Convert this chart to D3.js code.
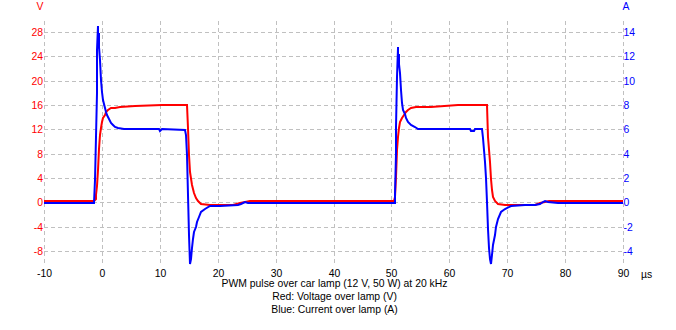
<!DOCTYPE html>
<html>
<head>
<meta charset="utf-8">
<script src="https://cdn.jsdelivr.net/npm/d3@7"></script>
<style>
  html, body { margin: 0; padding: 0; background: #ffffff; }
  svg { display: block; }
  text { font-family: "Liberation Sans", Arial, sans-serif; font-size: 10.4px; }
</style>
</head>
<body>
<svg id="chart" width="676" height="330"></svg>
<script>
// ---- data (time in µs) ----
const timeTicks = [-10, 0, 10, 20, 30, 40, 50, 60, 70, 80, 90];
const voltageTicks = [-8, -4, 0, 4, 8, 12, 16, 20, 24, 28];
const currentTicks = [-4, -2, 0, 2, 4, 6, 8, 10, 12, 14];
const titleLines = [
  "PWM pulse over car lamp (12 V, 50 W) at 20 kHz",
  "Red: Voltage over lamp (V)",
  "Blue: Current over lamp (A)"
];

// Red: voltage over lamp [t, V]
const voltageSamples = [
  [-10, 0.15], [-1.3, 0.15], [-1.1, 0.5], [-0.95, 1.2], [-0.78, 2.6], [-0.67, 5.3],
  [-0.5, 8.8], [-0.33, 11.0], [-0.15, 12.3], [0.02, 13.2], [0.25, 13.8], [0.48, 14.3],
  [0.77, 14.9], [1.06, 15.25], [1.5, 15.45], [2.2, 15.55], [3.1, 15.7], [5.7, 15.85],
  [10.3, 16.0], [14.7, 16.0], [14.88, 12.2], [15.05, 7.8], [15.28, 5.0], [15.57, 2.8],
  [15.85, 1.45], [16.2, 0.7], [16.6, 0.16], [17.2, -0.21], [18.6, -0.38], [22.6, -0.4],
  [23.8, -0.17], [24.7, 0.05], [25.5, 0.15], [50.4, 0.15],
  [50.55, 0.9], [50.74, 4.2], [50.9, 8.6], [51.14, 10.8], [51.3, 12.2], [51.55, 13.25],
  [51.83, 13.9], [52.1, 14.35], [52.47, 14.9], [52.87, 15.2], [53.45, 15.46], [54.3, 15.6],
  [56.9, 15.7], [61.5, 15.95], [66.5, 16.0], [66.7, 10.8], [66.95, 6.65], [67.15, 3.9],
  [67.4, 2.0], [67.6, 0.9], [67.96, 0.17], [68.4, -0.21], [69.57, -0.38], [74.75, -0.5],
  [75.6, -0.2], [76.5, 0.05], [77.3, 0.15], [90, 0.15]
];

// Blue: current over lamp [t, A]
const currentSamples = [
  [-10, -0.03], [-9.4, -0.03], [-9.3, -0.1], [-8.9, -0.1], [-8.8, -0.03], [-6.9, -0.03],
  [-6.8, -0.1], [-6.4, -0.1], [-6.3, -0.03], [-4.6, -0.03], [-4.5, -0.1], [-3.8, -0.1],
  [-3.7, -0.03], [-1.4, -0.03],
  [-1.24, 1.8], [-1.07, 5.4], [-0.9, 9.0], [-0.78, 12.5], [-0.67, 14.5], [-0.6, 13.1],
  [-0.52, 13.9], [-0.44, 12.8], [-0.26, 11.7], [-0.09, 10.1], [0.08, 9.1], [0.25, 8.4],
  [0.48, 7.75], [0.66, 7.45], [0.89, 7.2], [1.17, 6.85], [1.52, 6.55], [1.87, 6.35],
  [2.21, 6.2], [2.79, 6.08], [3.82, 6.0], [9.8, 6.0], [10.0, 5.9], [10.3, 6.0],
  [14.3, 5.95], [14.6, 5.5], [14.7, 3.9], [14.87, 0.58], [15.04, -2.7], [15.22, -5.06],
  [15.39, -4.65], [15.56, -3.8], [15.74, -3.0], [15.97, -2.45], [16.2, -2.04], [16.43, -1.63],
  [16.77, -1.21], [17.18, -0.8], [17.75, -0.52], [18.6, -0.33], [20.35, -0.28], [23.5, -0.22],
  [24.1, -0.11], [24.7, 0.03], [25.3, -0.03],
  [26.5, -0.03], [26.6, -0.1], [27.6, -0.1], [27.7, -0.03], [29.5, -0.03], [29.6, -0.1],
  [31.5, -0.1], [31.6, -0.03], [33.6, -0.03], [33.7, -0.1], [34.2, -0.1], [34.3, -0.03],
  [35.0, -0.03], [35.1, -0.1], [36.7, -0.1], [36.8, -0.03], [39.0, -0.03], [39.1, -0.1],
  [39.9, -0.1], [40.0, -0.03], [41.6, -0.03], [41.7, -0.1], [42.3, -0.1], [42.4, -0.03],
  [45.7, -0.03], [45.8, -0.1], [46.3, -0.1], [46.4, -0.03], [48.3, -0.03], [48.4, -0.1],
  [50.4, -0.1], [50.55, -0.03],
  [50.69, 0.7], [50.74, 4.0], [50.86, 6.2], [50.97, 10.3], [51.09, 12.7], [51.15, 12.8],
  [51.22, 11.9], [51.27, 12.2], [51.3, 11.4], [51.43, 10.6], [51.6, 9.24], [51.83, 8.14],
  [52.07, 7.6], [52.3, 7.3], [52.6, 6.9], [52.87, 6.6], [53.33, 6.35], [54.0, 6.16],
  [54.6, 6.05], [55.45, 6.0], [63.5, 6.0], [63.8, 5.9], [64.2, 5.9], [64.4, 6.0],
  [65.65, 6.0], [65.82, 5.25], [66.1, 3.3], [66.3, 1.96], [66.46, 0.03], [66.7, -2.17],
  [66.93, -3.8], [67.1, -4.65], [67.2, -5.06], [67.4, -4.37], [67.6, -3.55], [67.84, -2.72],
  [68.13, -2.04], [68.4, -1.35], [68.88, -0.8], [69.57, -0.52], [70.7, -0.33], [73.0, -0.25],
  [74.75, -0.25], [75.6, -0.11], [76.2, 0.03], [76.6, 0.14], [77.1, 0.03], [78.8, -0.03],
  [78.9, -0.1], [79.5, -0.1], [79.6, -0.03], [81.3, -0.03], [81.4, -0.1], [83.6, -0.1],
  [83.7, -0.03], [86.5, -0.03], [86.6, -0.1], [87.2, -0.1], [87.3, -0.03], [90, -0.03]
];

// ---- layout ----
const svg = d3.select("#chart");
const plotLeft = 44, plotRight = 623, plotTop = 20, plotBottom = 263;

const x = d3.scaleLinear().domain([-10, 90]).rangeRound([plotLeft, plotRight]);
const yV = d3.scaleLinear().domain([-10, 30]).rangeRound([plotBottom, plotTop]);
const yI = d3.scaleLinear().domain([-5, 15]).rangeRound([plotBottom, plotTop]);

const gridColor = "#c0c0c0";
const fmt = d => String(d);

// vertical grid + bottom labels
const gx = svg.append("g")
  .attr("transform", `translate(0,${plotBottom})`)
  .call(d3.axisBottom(x).tickValues(timeTicks).tickSize(-(plotBottom - plotTop)).tickPadding(7).tickFormat(fmt));

// horizontal grid + left labels (voltage)
const gyL = svg.append("g")
  .attr("transform", `translate(${plotLeft},0)`)
  .call(d3.axisLeft(yV).tickValues(voltageTicks).tickSize(-(plotRight - plotLeft)).tickPadding(1).tickFormat(fmt));

// right labels (current)
const gyR = svg.append("g")
  .attr("transform", `translate(${plotRight},0)`)
  .call(d3.axisRight(yI).tickValues(currentTicks).tickSize(0).tickPadding(0.5).tickFormat(fmt));

[gx, gyL, gyR].forEach(g => {
  g.attr("font-family", null).attr("font-size", null);
  g.select(".domain").remove();
  g.selectAll(".tick line").attr("stroke", gridColor).attr("stroke-dasharray", "4,3");
});
gyR.selectAll(".tick line").remove();
gx.selectAll(".tick text").attr("fill", "#000000");
gyL.selectAll(".tick text").attr("fill", "#ff0000");
gyR.selectAll(".tick text").attr("fill", "#0000ff");

// unit labels
svg.append("text").attr("x", 40).attr("y", 10).attr("text-anchor", "middle").attr("fill", "#ff0000").text("V");
svg.append("text").attr("x", 626).attr("y", 10).attr("text-anchor", "middle").attr("fill", "#0000ff").text("A");
svg.append("text").attr("x", 641).attr("y", 277.5).attr("fill", "#000000").text("µs");

// traces
const lineV = d3.line().x(d => x(d[0])).y(d => yV(d[1]));
const lineI = d3.line().x(d => x(d[0])).y(d => yI(d[1]));

svg.append("path").datum(voltageSamples)
  .attr("d", lineV).attr("fill", "none").attr("stroke", "#ff0000").attr("stroke-width", 2);
svg.append("path").datum(currentSamples)
  .attr("d", lineI).attr("fill", "none").attr("stroke", "#0000ff").attr("stroke-width", 2);

// caption
const captionY = [287, 300, 313];
svg.selectAll("text.caption").data(titleLines).enter().append("text")
  .attr("class", "caption")
  .attr("x", (plotLeft + plotRight) / 2 + 1)
  .attr("y", (d, i) => captionY[i])
  .attr("text-anchor", "middle")
  .attr("fill", "#000000")
  .text(d => d);
</script>
</body>
</html>
